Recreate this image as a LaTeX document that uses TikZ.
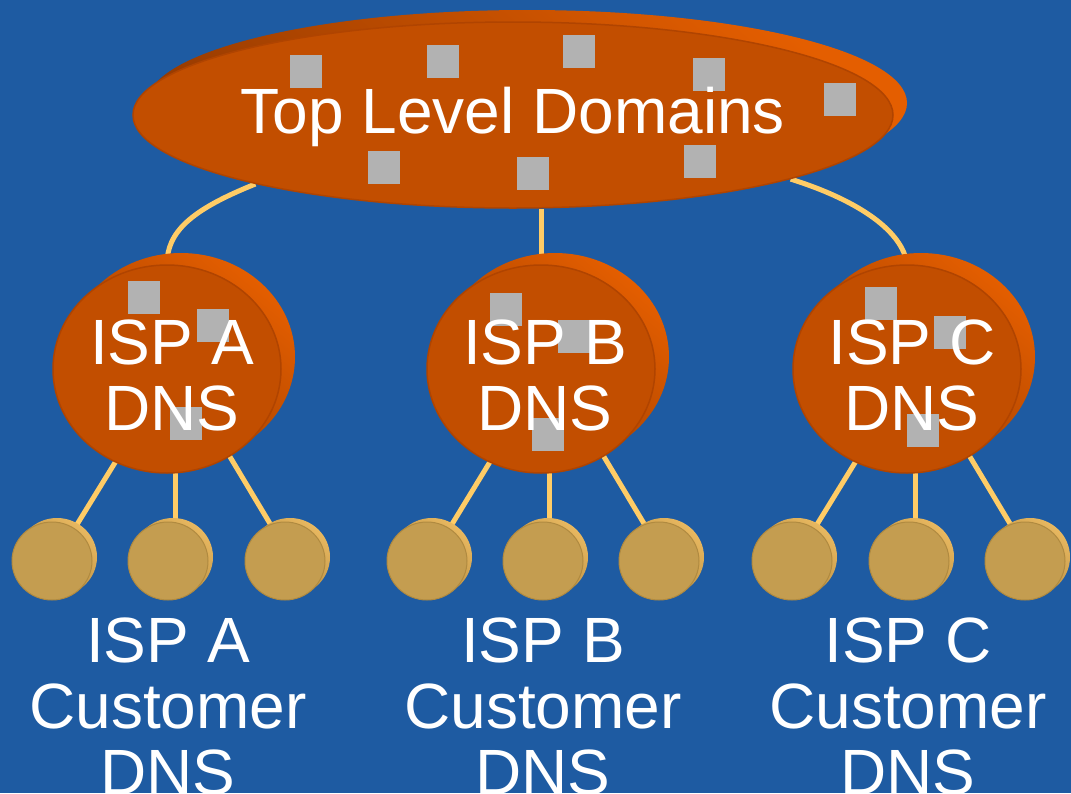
\documentclass[tikz,border=0pt]{standalone}
\usepackage{fontspec}
\setmainfont{Liberation Sans}
\usetikzlibrary{shapes.geometric,backgrounds}
\definecolor{bgblue}{RGB}{30,91,162}
\definecolor{orfront}{RGB}{194,78,0}
\definecolor{oredge}{RGB}{176,68,0}
\definecolor{ordark}{RGB}{150,58,0}
\definecolor{orlight}{RGB}{228,94,0}
\definecolor{lffront}{RGB}{196,157,80}
\definecolor{lfedge}{RGB}{176,138,64}
\definecolor{lfdark}{RGB}{168,128,56}
\definecolor{lflight}{RGB}{232,184,96}
\definecolor{sqgray}{RGB}{178,178,178}
\definecolor{linkcol}{RGB}{255,204,102}
\tikzset{
  bigfont/.style={font=\fontsize{64}{66}\selectfont},
  front/.style={ellipse, inner sep=0pt, fill=orfront, draw=oredge, line width=1.5pt},
  back/.style={ellipse, inner sep=0pt, top color=orlight, bottom color=ordark, shading angle=-40, draw=none},
  leaffront/.style={ellipse, inner sep=0pt, minimum width=80pt, minimum height=78pt, fill=lffront, draw=lfedge, line width=1pt},
  leafback/.style={ellipse, inner sep=0pt, minimum width=80pt, minimum height=78pt, top color=lflight, bottom color=lfdark, shading angle=-40, draw=none},
  ispsize/.style={minimum width=228pt, minimum height=208pt},
  sq/.style={rectangle, inner sep=0pt, minimum width=32pt, minimum height=33pt, fill=sqgray},
  label/.style={bigfont, text=white, align=center, anchor=base},
  link/.style={draw=linkcol, line width=5pt},
}
\begin{document}
\begin{tikzpicture}[x=1pt,y=-1pt]
\useasboundingbox (0,0) rectangle (1071,793);
\clip (0,0) rectangle (1071,793);
% top level domains
\node[back, minimum width=760pt, minimum height=186pt] (tldback) at (527,103) {};
\node[front, minimum width=760pt, minimum height=186pt] (tld) at (513,115) {};
\foreach \x/\y [count=\i] in {306/71.5,443/61.5,579/51.5,709/74.5,840/99.5,384/167.5,533/173.5,700/161.5}
  \node[sq] (tsq\i) at (\x,\y) {};
\node[label] (tldtext) at (513,133) {Top Level Domains};
% ISP servers
\foreach \n/\cx in {A/167, B/541, C/907} {
  \node[back, ispsize] (isp\n back) at (\cx+14,357) {};
  \node[front, ispsize] (isp\n) at (\cx,369) {};
}
\foreach \x/\y [count=\i] in {144/297,213/325,186/423,506/309,574/336,548/434,881/303,950/332,923/430}
  \node[sq] (isq\i) at (\x,\y) {};
\node[label] (ispAtext) at (172,430) {ISP A\\DNS};
\node[label] (ispBtext) at (545,430) {ISP B\\DNS};
\node[label] (ispCtext) at (912,430) {ISP C\\DNS};
% hubs where the lower connectors meet
\coordinate (hubA) at (175,365);
\coordinate (hubB) at (549,365);
\coordinate (hubC) at (915,365);
% leaves
\foreach \n/\a/\b/\c in {A/52/168/285, B/427/543/659, C/792/909/1025} {
  \foreach \x [count=\k] in {\a,\b,\c} {
    \node[leafback] (\n\k back) at (\x+5,557) {};
    \node[leaffront] (\n\k) at (\x,561) {};
  }
}
\node[label] (custA) at (168,794) {ISP A\\Customer\\DNS};
\node[label] (custB) at (543,794) {ISP B\\Customer\\DNS};
\node[label] (custC) at (908,794) {ISP C\\Customer\\DNS};
% connectors and background
\begin{scope}[on background layer]
  \fill[bgblue] (0,0) rectangle (1071,793);
  \draw[link] (tld.195) .. controls +(-65,26) and +(0,-32) .. (ispA.north) -- (ispA.center);
  \draw[link] (ispB |- tld.south) -- (ispB);
  \draw[link] (tld.347) .. controls +(70,22) and +(-4,-32) .. (ispC.north) -- (ispC.center);
  \foreach \n in {A,B,C} {
    \draw[link] (hub\n) -- (\n1back.center);
    \draw[link] (hub\n) -- (hub\n |- \n2back);
    \draw[link] (hub\n) -- (\n3back.center);
  }
\end{scope}
\end{tikzpicture}
\end{document}
